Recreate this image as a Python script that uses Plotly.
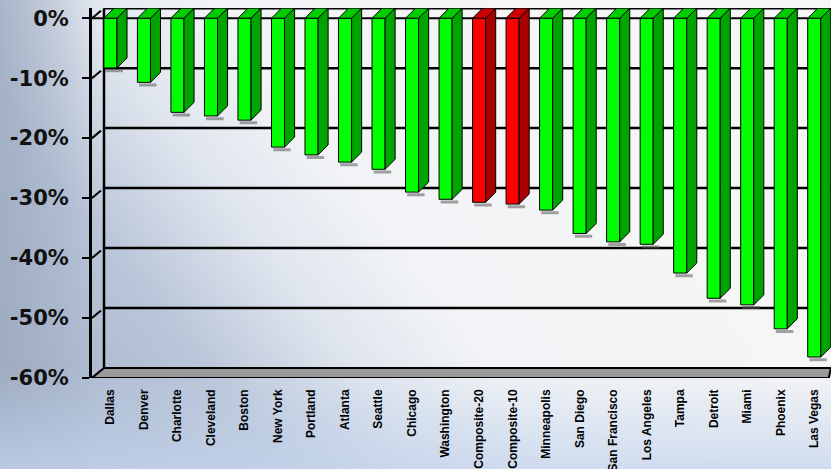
import base64
import plotly.graph_objects as go

cities = ["Dallas", "Denver", "Charlotte", "Cleveland", "Boston", "New York", "Portland",
          "Atlanta", "Seattle", "Chicago", "Washington", "Composite-20", "Composite-10",
          "Minneapolis", "San Diego", "San Francisco", "Los Angeles", "Tampa", "Detroit",
          "Miami", "Phoenix", "Las Vegas"]
declines = [-8.3, -10.7, -15.7, -16.3, -17.0, -21.5, -22.8, -24.0, -25.2, -29.0, -30.2,
            -30.7, -31.0, -32.0, -35.9, -37.3, -37.7, -42.5, -46.7, -47.8, -51.8, -56.5]
highlight = ["Composite-20", "Composite-10"]
tick_values = [0, -10, -20, -30, -40, -50, -60]
tick_labels = ["0%", "-10%", "-20%", "-30%", "-40%", "-50%", "-60%"]

W, H = 831, 469
ML, MR, MT, MB = 92, 0, 8, 91
pw, ph = W - ML - MR, H - MT - MB
XR = [-0.55, 21.5]
YR = [-60, 1.7]
bw = 0.39     # front face width (x units)
dx = 0.30     # depth offset in x units
dy = 1.67     # depth offset in y units
wall_dx = 12 / pw  # paper offset of back wall

front_cols = ["#ff0000" if c in highlight else "#00ff00" for c in cities]

fig = go.Figure()
xs = list(range(len(cities)))

# bar shadows, side and top faces
shx, shy = [], []
for i, v in enumerate(declines):
    xl = i - bw / 2 + 0.05
    xr = i + bw / 2 + dx * 0.6
    shx += [xl, xr, xr, xl, xl, None]
    shy += [v - 0.2, v - 0.2, v - 0.7, v - 0.7, v - 0.2, None]
fig.add_trace(go.Scatter(x=shx, y=shy, mode="lines", fill="toself", fillcolor="rgba(90,90,90,0.55)",
                         line=dict(width=0), hoverinfo="skip", showlegend=False))

for kind in ("green", "red"):
    sx, sy, tx, ty = [], [], [], []
    for i, (c, v) in enumerate(zip(cities, declines)):
        if (c in highlight) != (kind == "red"):
            continue
        xr = i + bw / 2
        xl = i - bw / 2
        sx += [xr, xr + dx, xr + dx, xr, xr, None]
        sy += [0, dy, v + dy, v, 0, None]
        tx += [xl, xr, xr + dx, xl + dx, xl, None]
        ty += [0, 0, dy, dy, 0, None]
    sc = "#a80000" if kind == "red" else "#00a400"
    tc = "#cc0000" if kind == "red" else "#00cc00"
    fig.add_trace(go.Scatter(x=sx, y=sy, mode="lines", fill="toself", fillcolor=sc,
                             line=dict(color="black", width=1), hoverinfo="skip",
                             showlegend=False))
    fig.add_trace(go.Scatter(x=tx, y=ty, mode="lines", fill="toself", fillcolor=tc,
                             line=dict(color="black", width=1), hoverinfo="skip",
                             showlegend=False))

# front faces
fig.add_trace(go.Bar(x=xs, y=declines, width=bw, marker=dict(color=front_cols,
                     line=dict(color="black", width=1)), showlegend=False))

# background gradient
svg = f'''<svg xmlns="http://www.w3.org/2000/svg" width="{W}" height="{H}">
<defs><linearGradient id="g" gradientUnits="userSpaceOnUse" x1="0" y1="430" x2="560" y2="0">
<stop offset="0" stop-color="#a3b1c8"/>
<stop offset="0.28" stop-color="#b9c5d8"/>
<stop offset="0.45" stop-color="#dfe5ee"/>
<stop offset="0.60" stop-color="#f1f3f6"/>
<stop offset="1" stop-color="#f6f6f6"/>
</linearGradient>
<linearGradient id="h" x1="0" y1="0" x2="1" y2="0">
<stop offset="0" stop-color="#9aa7bd" stop-opacity="0.7"/>
<stop offset="0.12" stop-color="#9aa7bd" stop-opacity="0.0"/>
</linearGradient>
<linearGradient id="b" x1="0" y1="0" x2="0" y2="1">
<stop offset="0.78" stop-color="#c4d4ec" stop-opacity="0"/>
<stop offset="1" stop-color="#c4d4ec" stop-opacity="0.75"/>
</linearGradient></defs>
<rect width="{W}" height="{H}" fill="url(#g)"/>
<rect width="{W}" height="{H}" fill="url(#h)"/>
<rect width="{W}" height="{H}" fill="url(#b)"/>
</svg>'''
uri = "data:image/svg+xml;base64," + base64.b64encode(svg.encode()).decode()

shapes = []
for v in tick_values[1:-1]:
    shapes.append(dict(type="line", xref="paper", yref="y", x0=wall_dx, x1=1,
                       y0=v + dy, y1=v + dy, line=dict(color="black", width=2.5),
                       layer="below"))
for v in tick_values:
    shapes.append(dict(type="line", xref="paper", yref="y", x0=0, x1=wall_dx * 0.75,
                       y0=v, y1=v + dy * 0.75, line=dict(color="black", width=2),
                       layer="below"))
shapes.append(dict(type="line", xref="paper", yref="y", x0=wall_dx, x1=1, y0=dy, y1=dy,
                   line=dict(color="black", width=2.5), layer="below"))
shapes.append(dict(type="line", xref="paper", yref="y", x0=0, x1=1, y0=0, y1=0,
                   line=dict(color="black", width=2), layer="below"))
shapes.append(dict(type="line", xref="paper", yref="y", x0=wall_dx, x1=wall_dx,
                   y0=-60 + dy, y1=dy, line=dict(color="black", width=2.5), layer="below"))
shapes.append(dict(type="path", xref="paper", yref="y",
                   path=f"M 0,-60 L 0.997,-60 L 1.0,{-60 + dy} L {wall_dx},{-60 + dy} Z",
                   fillcolor="#9a9a9a", line=dict(color="black", width=2), layer="below"))

fig.update_layout(
    width=W, height=H, autosize=False,
    margin=dict(l=ML, r=MR, t=MT, b=MB, pad=0),
    paper_bgcolor="#f4f5f7", plot_bgcolor="rgba(0,0,0,0)",
    images=[dict(source=uri, xref="paper", yref="paper", x=-ML / pw, y=1 + MT / ph,
                 sizex=W / pw, sizey=H / ph, xanchor="left", yanchor="top",
                 sizing="stretch", layer="below")],
    shapes=shapes,
    bargap=0,
    hovermode=False,
    xaxis=dict(range=XR, tickmode="array", tickvals=xs, ticktext=cities, tickangle=-90,
               showgrid=False, zeroline=False, showline=False, ticks="",
               ticklabelstandoff=8, automargin=False, fixedrange=True,
               tickfont=dict(family="Liberation Sans", size=12, color="black", weight="bold")),
    yaxis=dict(range=YR, tickmode="array", tickvals=tick_values, ticktext=tick_labels,
               showgrid=False, zeroline=False, showline=True, linecolor="black",
               linewidth=3, ticks="outside", ticklen=7, tickwidth=2, tickcolor="black",
               ticklabelstandoff=9, automargin=False, fixedrange=True,
               tickfont=dict(family="DejaVu Sans", size=21, color="#111111", weight="bold")),
)

fig.write_html("out.html", config={"displayModeBar": False, "staticPlot": True},
               post_script="document.body.style.margin='0';document.body.style.overflow='hidden';")
